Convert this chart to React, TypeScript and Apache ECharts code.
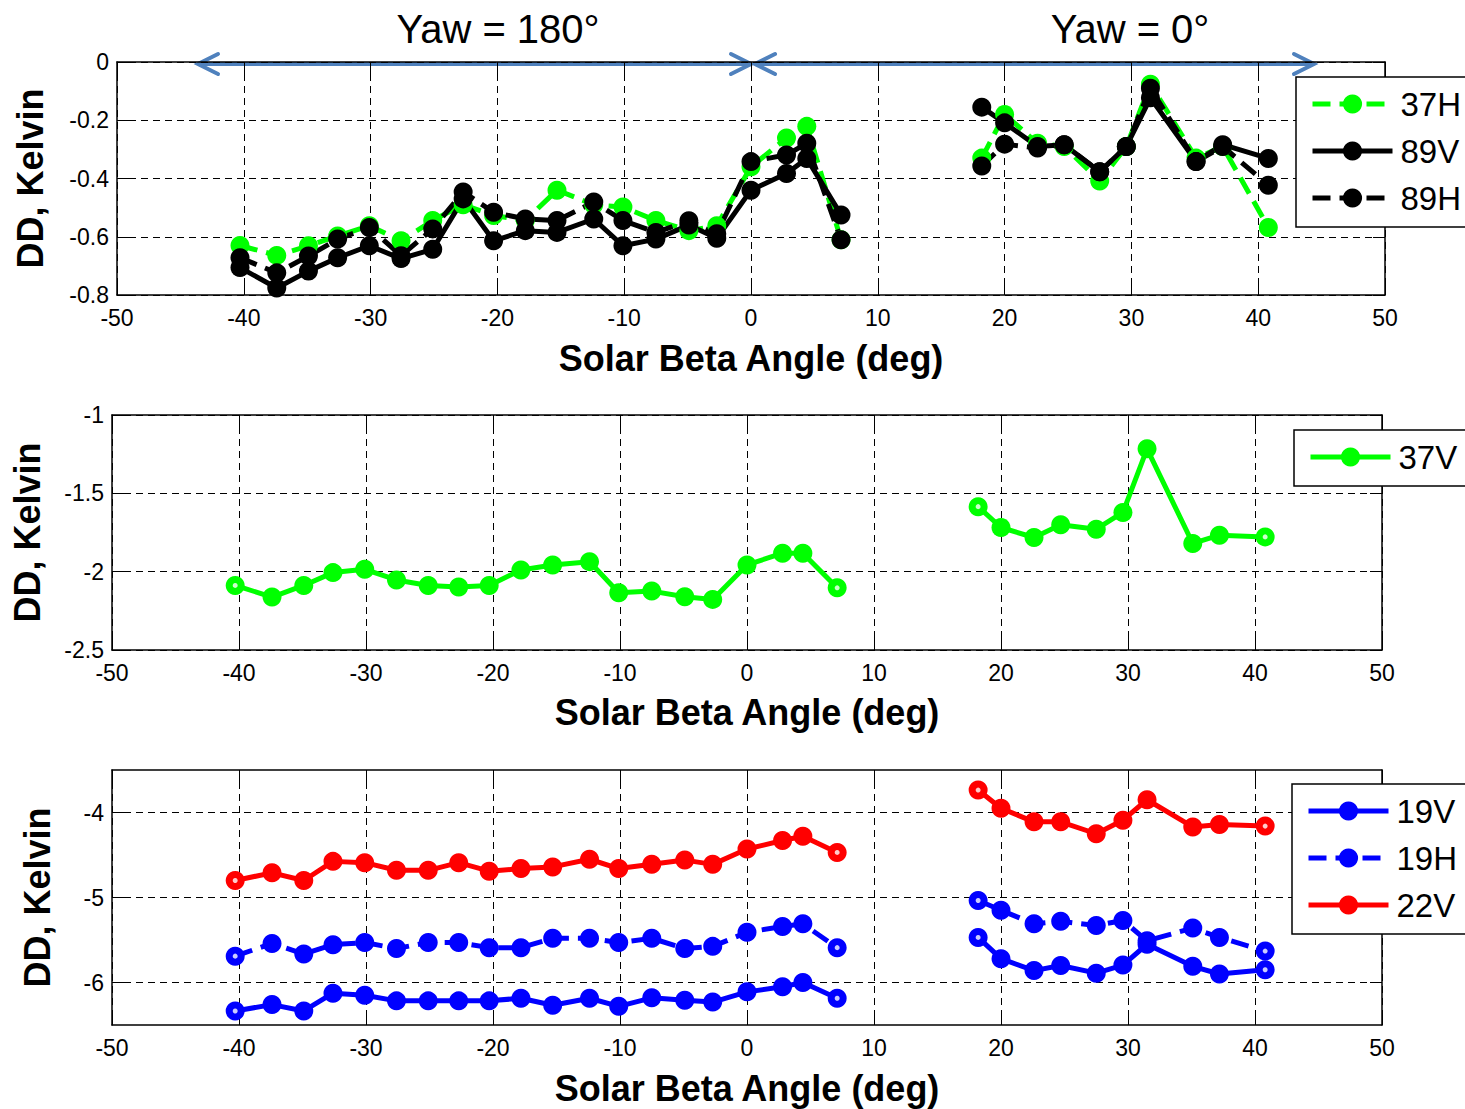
import React, { useEffect, useRef } from "react";
import * as echarts from "echarts";

// Solar beta angle (deg) of each sample, before and after the yaw flip
const betaLeft = [-40.3, -37.4, -34.9, -32.6, -30.1, -27.6, -25.1, -22.7, -20.3, -17.8, -15.3, -12.4, -10.1, -7.5, -4.9, -2.7, 0.0, 2.8, 4.4, 7.1];
const betaRight = [18.2, 20.0, 22.6, 24.7, 27.5, 29.6, 31.5, 35.1, 37.2, 40.8];

// Panel 1: 37H, 89V, 89H
const dd37hLeft = [-0.63, -0.664, -0.631, -0.597, -0.562, -0.614, -0.544, -0.49, -0.527, -0.544, -0.44, -0.49, -0.498, -0.544, -0.579, -0.562, -0.36, -0.261, -0.221, -0.61];
const dd37hRight = [-0.33, -0.18, -0.279, -0.29, -0.409, -0.29, -0.076, -0.33, -0.29, -0.568];
const dd89vLeft = [-0.706, -0.776, -0.718, -0.672, -0.631, -0.675, -0.643, -0.47, -0.614, -0.579, -0.585, -0.539, -0.631, -0.608, -0.56, -0.605, -0.44, -0.383, -0.331, -0.525];
const dd89vRight = [-0.155, -0.209, -0.29, -0.284, -0.377, -0.29, -0.123, -0.342, -0.284, -0.331];
const dd89hLeft = [-0.672, -0.724, -0.666, -0.608, -0.568, -0.665, -0.573, -0.446, -0.516, -0.539, -0.544, -0.481, -0.544, -0.585, -0.545, -0.59, -0.342, -0.319, -0.279, -0.61];
const dd89hRight = [-0.357, -0.282, -0.295, -0.284, -0.377, -0.29, -0.09, -0.342, -0.29, -0.423];

// Panel 2: 37V
const dd37vLeft = [-2.088, -2.162, -2.088, -2.006, -1.985, -2.053, -2.088, -2.098, -2.088, -1.989, -1.957, -1.936, -2.135, -2.124, -2.16, -2.177, -1.957, -1.882, -1.882, -2.103];
const dd37vRight = [-1.585, -1.718, -1.782, -1.7, -1.729, -1.622, -1.216, -1.82, -1.767, -1.778];

// Panel 3: 19V, 19H, 22V
const dd19vLeft = [-6.335, -6.26, -6.335, -6.126, -6.15, -6.216, -6.216, -6.216, -6.216, -6.185, -6.268, -6.185, -6.28, -6.18, -6.21, -6.23, -6.11, -6.05, -6.0, -6.185];
const dd19vRight = [-5.47, -5.72, -5.86, -5.8, -5.89, -5.795, -5.55, -5.81, -5.9, -5.85];
const dd19hLeft = [-5.69, -5.54, -5.665, -5.555, -5.53, -5.6, -5.53, -5.53, -5.59, -5.59, -5.48, -5.48, -5.53, -5.48, -5.6, -5.575, -5.41, -5.34, -5.31, -5.59];
const dd19hRight = [-5.035, -5.15, -5.31, -5.28, -5.33, -5.27, -5.51, -5.36, -5.47, -5.63];
const dd22vLeft = [-4.8, -4.71, -4.8, -4.575, -4.59, -4.68, -4.68, -4.59, -4.69, -4.66, -4.64, -4.55, -4.66, -4.61, -4.56, -4.61, -4.43, -4.33, -4.28, -4.47];
const dd22vRight = [-3.736, -3.95, -4.11, -4.11, -4.25, -4.09, -3.85, -4.17, -4.14, -4.16];

const xTicks = { min: -50, max: 50, interval: 10 };
const panel3YTicks = [-6, -5, -4];

const FONT = "'Liberation Sans', Arial, sans-serif";
const ARROW = "#4F81BD";
const DASH = [18, 9];

// Join the two beta ranges with a break so the line is not drawn across the gap
function pairs(left: number[], right: number[]) {
  return [
    ...betaLeft.map((x, i) => [x, left[i]]),
    ["-", "-"],
    ...betaRight.map((x, i) => [x, right[i]]),
  ];
}

// First and last sample of each segment, marked with a small white centre
function segmentEnds(left: number[], right: number[]) {
  const nl = betaLeft.length - 1;
  const nr = betaRight.length - 1;
  return [
    [betaLeft[0], left[0]],
    [betaLeft[nl], left[nl]],
    [betaRight[0], right[0]],
    [betaRight[nr], right[nr]],
  ];
}

function lineSeries(name: string, panel: number, left: number[], right: number[], color: string, dashed: boolean) {
  return {
    name,
    type: "line",
    xAxisIndex: panel * 2,
    yAxisIndex: panel * 2,
    data: pairs(left, right),
    symbol: "circle",
    symbolSize: 19,
    showSymbol: true,
    connectNulls: false,
    silent: true,
    lineStyle: { color, width: 5, type: dashed ? DASH : "solid" },
    itemStyle: { color },
    emphasis: { disabled: true },
  };
}

function endDots(panel: number, sets: number[][][]) {
  return {
    type: "scatter",
    xAxisIndex: panel * 2,
    yAxisIndex: panel * 2,
    data: sets.flatMap(([l, r]) => segmentEnds(l, r)),
    symbol: "circle",
    symbolSize: 5,
    silent: true,
    z: 5,
    itemStyle: { color: "#fff" },
    emphasis: { disabled: true },
  };
}

const gridLine = { show: true, lineStyle: { color: "#000", width: 1, type: [7, 5] } };
const frameLine = { show: true, onZero: false, lineStyle: { color: "#000", width: 1.5 } };
const tickFont = { fontFamily: FONT, fontSize: 23, color: "#000" };
const nameFont = { fontFamily: FONT, fontSize: 36, fontWeight: "bold" as const, color: "#000" };

function xAxesFor(panel: number, nameGap: number) {
  return [
    {
      type: "value",
      gridIndex: panel,
      position: "bottom",
      ...xTicks,
      axisLine: frameLine,
      axisTick: { show: true, inside: true, length: 12, lineStyle: { color: "#000" } },
      axisLabel: { ...tickFont, margin: 11 },
      splitLine: gridLine,
      name: "Solar Beta Angle (deg)",
      nameLocation: "middle",
      nameGap,
      nameTextStyle: nameFont,
    },
    {
      type: "value",
      gridIndex: panel,
      position: "top",
      ...xTicks,
      axisLine: frameLine,
      axisTick: { show: true, inside: true, length: 12, lineStyle: { color: "#000" } },
      axisLabel: { show: false },
      splitLine: { show: false },
    },
  ];
}

function yAxesFor(panel: number, range: any, nameGap: number) {
  const tick = { show: true, inside: true, length: 12, lineStyle: { color: "#000" }, ...(range.custom ? { customValues: range.custom } : {}) };
  const label = { ...tickFont, margin: 8, ...(range.custom ? { customValues: range.custom } : {}) };
  const scale = { min: range.min, max: range.max, ...(range.interval ? { interval: range.interval } : {}) };
  return [
    {
      type: "value",
      gridIndex: panel,
      position: "left",
      ...scale,
      axisLine: frameLine,
      axisTick: tick,
      axisLabel: label,
      splitLine: gridLine,
      name: "DD, Kelvin",
      nameLocation: "middle",
      nameRotate: 90,
      nameGap,
      nameTextStyle: nameFont,
    },
    {
      type: "value",
      gridIndex: panel,
      position: "right",
      ...scale,
      axisLine: frameLine,
      axisTick: tick,
      axisLabel: { show: false, ...(range.custom ? { customValues: range.custom } : {}) },
      splitLine: { show: false },
    },
  ];
}

function legendAt(names: string[], left: number, top: number) {
  return {
    data: names,
    left,
    top,
    orient: "vertical",
    itemWidth: 80,
    itemHeight: 24,
    itemGap: 13,
    padding: [10, 14, 12, 14],
    borderColor: "#000",
    borderWidth: 1.5,
    borderRadius: 0,
    backgroundColor: "#fff",
    selectedMode: false,
    lineStyle: { width: 5 },
    textStyle: { fontFamily: FONT, fontSize: 33, lineHeight: 34, color: "#000", padding: [0, 0, 0, 3] },
  };
}

function arrowHead(tipX: number, y: number, dir: number) {
  return {
    type: "polyline",
    shape: { points: [[tipX - dir * 20, y - 10], [tipX, y], [tipX - dir * 20, y + 10]] },
    style: { stroke: ARROW, lineWidth: 4, fill: null, lineCap: "round", lineJoin: "miter" },
    silent: true,
  };
}

export default function App() {
  const ref = useRef<HTMLDivElement>(null);

  useEffect(() => {
    if (!ref.current) return;
    const chart = echarts.init(ref.current, null, { renderer: "svg" });

    const option: any = {
      animation: false,
      backgroundColor: "#fff",
      grid: [
        { left: 117, top: 62, width: 1268, height: 233, outerBoundsMode: "none" },
        { left: 112, top: 415, width: 1270, height: 235, outerBoundsMode: "none" },
        { left: 112, top: 770, width: 1270, height: 255, outerBoundsMode: "none" },
      ],
      xAxis: [...xAxesFor(0, 45), ...xAxesFor(1, 44), ...xAxesFor(2, 45)],
      yAxis: [
        ...yAxesFor(0, { min: -0.8, max: 0, interval: 0.2 }, 69),
        ...yAxesFor(1, { min: -2.5, max: -1, interval: 0.5 }, 67),
        ...yAxesFor(2, { min: -6.5, max: -3.5, custom: panel3YTicks }, 57),
      ],
      legend: [
        legendAt(["37H", "89V", "89H"], 1296, 77),
        legendAt(["37V"], 1294, 430),
        legendAt(["19V", "19H", "22V"], 1292, 784),
      ],
      series: [
        lineSeries("37H", 0, dd37hLeft, dd37hRight, "#00FF00", true),
        lineSeries("89V", 0, dd89vLeft, dd89vRight, "#000000", false),
        lineSeries("89H", 0, dd89hLeft, dd89hRight, "#000000", true),
        lineSeries("37V", 1, dd37vLeft, dd37vRight, "#00FF00", false),
        lineSeries("19V", 2, dd19vLeft, dd19vRight, "#0000FF", false),
        lineSeries("19H", 2, dd19hLeft, dd19hRight, "#0000FF", true),
        lineSeries("22V", 2, dd22vLeft, dd22vRight, "#FF0000", false),
        endDots(1, [[dd37vLeft, dd37vRight]]),
        endDots(2, [[dd19vLeft, dd19vRight], [dd19hLeft, dd19hRight], [dd22vLeft, dd22vRight]]),
      ],
      graphic: [
        {
          type: "text",
          x: 498,
          y: 29,
          silent: true,
          style: { text: "Yaw = 180°", font: `40px ${FONT}`, fill: "#000", textAlign: "center", textVerticalAlign: "middle", verticalAlign: "middle" },
        },
        {
          type: "text",
          x: 1130,
          y: 29,
          silent: true,
          style: { text: "Yaw = 0°", font: `40px ${FONT}`, fill: "#000", textAlign: "center", textVerticalAlign: "middle", verticalAlign: "middle" },
        },
        { type: "line", shape: { x1: 199, y1: 64, x2: 750, y2: 64 }, style: { stroke: ARROW, lineWidth: 4 }, silent: true },
        { type: "line", shape: { x1: 756, y1: 64, x2: 1313, y2: 64 }, style: { stroke: ARROW, lineWidth: 4 }, silent: true },
        arrowHead(198, 64, -1),
        arrowHead(751, 64, 1),
        arrowHead(755, 64, -1),
        arrowHead(1314, 64, 1),
      ],
    };

    chart.setOption(option);
    return () => chart.dispose();
  }, []);

  return (
    <div
      ref={ref}
      style={{ position: "fixed", left: 0, top: 0, width: 1465, height: 1109, background: "#fff" }}
    />
  );
}
